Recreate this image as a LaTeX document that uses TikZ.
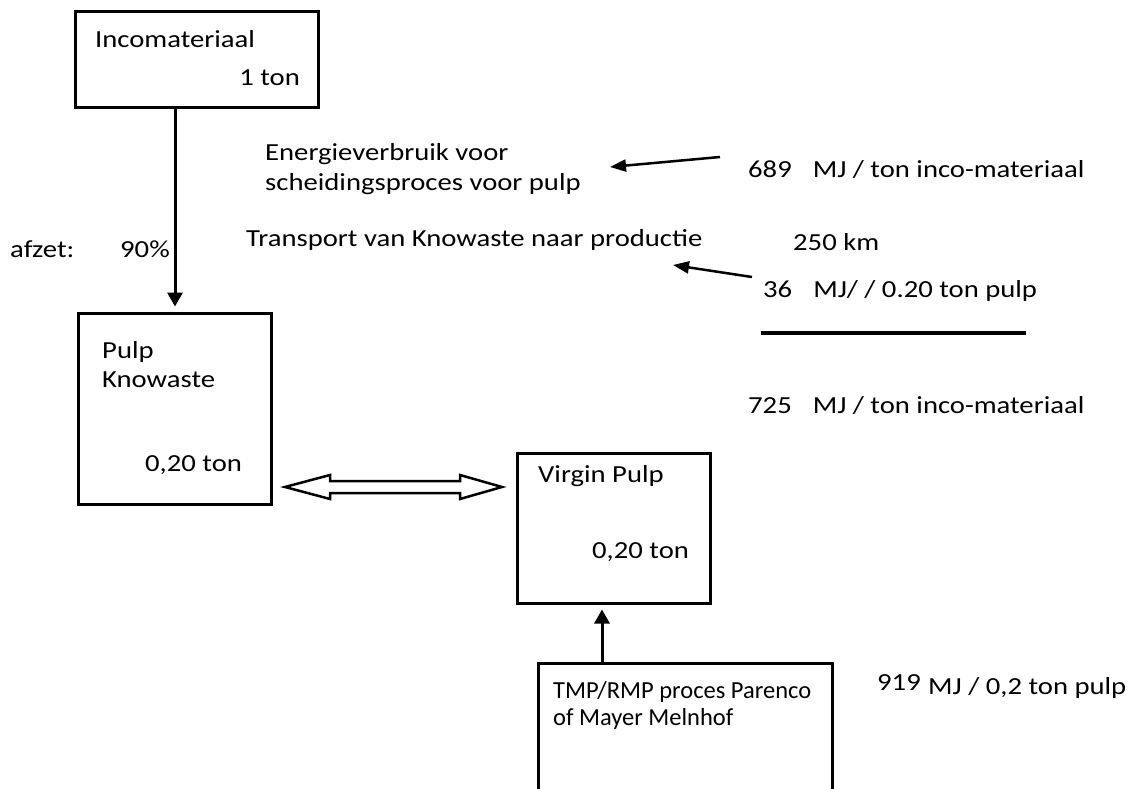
\documentclass[tikz,border=0pt]{standalone}
\usepackage{fontspec}
\setmainfont{Carlito}[FakeStretch=1.17]
\newfontfamily\narrowfont{Carlito}
\usetikzlibrary{arrows.meta,calc}
\begin{document}
\begin{tikzpicture}[x=1pt,y=-1pt,
  box/.style={draw,line width=3pt,inner sep=0pt},
  lbl/.style={inner sep=0pt,anchor=base west,font=\fontsize{24.5}{29}\selectfont},
  nlbl/.style={lbl,font=\narrowfont\fontsize{24.5}{29}\selectfont},
  flow/.style={line width=3pt,shorten >=5pt,-{Triangle[length=14pt,width=15pt]}},
  feed/.style={line width=2.5pt,-{Triangle[length=16pt,width=12pt]}},
  hollow/.style={line width=2.5pt,fill=white,line join=miter}]
\clip (0,0) rectangle (1144,789);
\fill[white] (0,0) rectangle (1144,789);

% process boxes
\node[box,minimum width=243pt,minimum height=96pt] (inco) at (196.5,60) {};
\node[box,minimum width=193pt,minimum height=191pt] (pulp) at (174.5,408.5) {};
\node[box,minimum width=193pt,minimum height=150pt] (virgin) at (613.5,528) {};
\node[box,minimum width=294pt,minimum height=170pt] (tmp) at (685,748) {};

% box texts
\node[lbl] (incoT) at (95,48) {Incomateriaal};
\node[lbl,anchor=base east] (incoQ) at (300,86) {1 ton};
\node[lbl] (pulpT1) at (102,358) {Pulp};
\node[lbl] (pulpT2) at (102,387) {Knowaste};
\node[lbl] (pulpQ) at (145,471) {0,20 ton};
\node[lbl] (virginT) at (538,482) {Virgin Pulp};
\node[lbl] (virginQ) at (592,558) {0,20 ton};
\node[nlbl] (tmpT1) at (553,698) {TMP/RMP proces Parenco};
\node[nlbl] (tmpT2) at (553,725) {of Mayer Melnhof};

% side texts
\node[lbl] (afzet) at (10,257) {afzet:};
\node[lbl] (pct) at (120,257) {90\%};
\node[lbl] (energy1) at (265,161) {Energieverbruik voor};
\node[lbl] (energy2) at (265,190) {scheidingsproces voor pulp};
\node[lbl] (transport) at (246,246) {Transport van Knowaste naar productie};
\node[lbl] (e689) at (748,178) {689\hspace{21pt}MJ / ton inco-materiaal};
\node[lbl] (km) at (793,250) {250 km};
\node[lbl] (e36) at (763,297) {36\hspace{21pt}MJ/ / 0.20 ton pulp};
\node[lbl] (e725) at (748,413) {725\hspace{21pt}MJ / ton inco-materiaal};
\node[lbl] (e919) at (877,690) {919};
\node[lbl] (e919u) at (928,694) {MJ / 0,2 ton pulp};

% sum line
\coordinate (sumL) at (761,333);
\coordinate (sumR) at (1026,333);
\draw[line width=4pt] (sumL) -- (sumR);

% main flow
\coordinate (flowX) at (175,0);
\draw[flow] (inco.south -| flowX) -- (pulp.north -| flowX);
\coordinate (upX) at (602,0);
\draw[flow] (tmp.north -| upX) -- (virgin.south -| upX);

% energy inputs
\coordinate (in1s) at (720,157);
\coordinate (in1e) at (610,167);
\draw[feed] (in1s) -- (in1e);
\coordinate (in2s) at (752,277);
\coordinate (in2e) at (673,265);
\draw[feed] (in2s) -- (in2e);

% exchange arrow between the two pulps
\coordinate (exL) at (285,487);
\coordinate (exR) at (502,487);
\draw[hollow] (exL) -- ++(45,-12) -- ++(0,6) -- ($(exR)+(-42,-6)$) -- ++(0,-6) -- (exR)
  -- ++(-42,12) -- ++(0,-6) -- ($(exL)+(45,6)$) -- ++(0,6) -- cycle;
\end{tikzpicture}
\end{document}
